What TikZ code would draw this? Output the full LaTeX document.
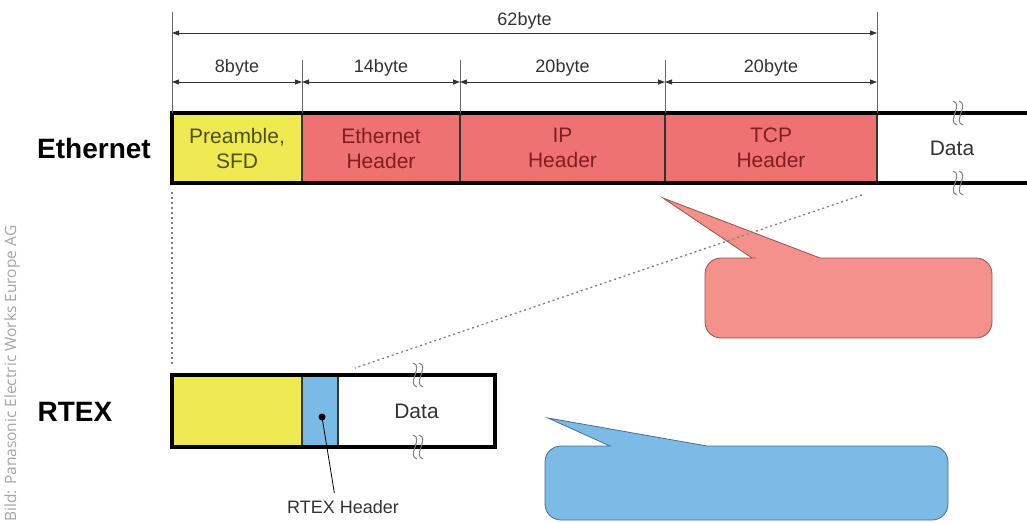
\documentclass[tikz,border=0pt]{standalone}
\usepackage{fontspec}
\setmainfont{Liberation Sans}
\newfontfamily\creditfont{Open Sans}
\usetikzlibrary{arrows.meta}
\definecolor{segyellow}{RGB}{240,234,82}
\definecolor{segred}{RGB}{238,114,114}
\definecolor{segblue}{RGB}{122,186,230}
\definecolor{callred}{RGB}{243,145,138}
\definecolor{callredline}{RGB}{150,80,80}
\definecolor{callblue}{RGB}{124,187,230}
\definecolor{callblueline}{RGB}{70,110,150}
\definecolor{txtolive}{RGB}{80,80,20}
\definecolor{txtred}{RGB}{130,30,30}
\definecolor{txtgray}{RGB}{50,50,50}
\definecolor{creditgray}{RGB}{165,165,165}

\begin{document}
\begin{tikzpicture}[x=1pt,y=-1pt,>={Triangle[length=7pt,width=5pt]},
  seg/.style={draw=black!80,line width=1.2pt,anchor=north west,inner sep=0pt,outer sep=0pt,
    minimum height=70pt,align=center,font=\fontsize{21}{25}\selectfont},
  outer/.style={line width=4pt,line join=miter},
  tick/.style={draw=black!60,line width=0.8pt},
  dim/.style={<->,draw=black!80,line width=0.8pt},
  dimlabel/.style={font=\fontsize{18}{21}\selectfont,text=txtgray},
  proto/.style={font=\fontsize{28}{32}\selectfont\bfseries},
  dots/.style={draw=black!50,line width=1.3pt,dash pattern=on 2pt off 3pt},
  brk/.style={draw=black!50,line width=1pt}]
\useasboundingbox (0,0) rectangle (1027,522);
% ethernet frame
\node[seg,fill=segyellow,text=txtolive,minimum width=130pt] (pre) at (172,113) {Preamble,\\SFD};
\node[seg,fill=segred,text=txtred,minimum width=158pt] (eth) at (pre.north east) {Ethernet\\Header};
\node[seg,fill=segred,text=txtred,minimum width=205pt] (ip) at (eth.north east) {IP\\Header};
\node[seg,fill=segred,text=txtred,minimum width=212pt] (tcp) at (ip.north east) {TCP\\Header};
\node[seg,draw=none,text=txtgray,minimum width=150pt] (data) at (tcp.north east) {Data};
\draw[outer] (data.north east) -- (pre.north west) -- (pre.south west) -- (data.south east);
\node[proto] (ethlbl) at (94,148) {Ethernet};
% byte counts
\draw[tick] (pre.north west) -- ++(0,-101);
\draw[tick] (tcp.north east) -- ++(0,-101);
\draw[tick] (pre.north east) -- ++(0,-53);
\draw[tick] (eth.north east) -- ++(0,-53);
\draw[tick] (ip.north east) -- ++(0,-53);
\draw[dim] ([yshift=80pt]pre.north west) -- ([yshift=80pt]tcp.north east) node[dimlabel,midway,above=0pt] {62byte};
\draw[dim] ([yshift=31pt]pre.north west) -- ([yshift=31pt]pre.north east) node[dimlabel,midway,above=2pt] {8byte};
\draw[dim] ([yshift=31pt]eth.north west) -- ([yshift=31pt]eth.north east) node[dimlabel,midway,above=2pt] {14byte};
\draw[dim] ([yshift=31pt]ip.north west) -- ([yshift=31pt]ip.north east) node[dimlabel,midway,above=2pt] {20byte};
\draw[dim] ([yshift=31pt]tcp.north west) -- ([yshift=31pt]tcp.north east) node[dimlabel,midway,above=2pt] {20byte};
% rtex frame
\node[seg,fill=segyellow,minimum width=130pt,minimum height=72pt] (rpre) at (172,375) {};
\node[seg,fill=segblue,minimum width=36pt,minimum height=72pt] (rhdr) at (rpre.north east) {};
\node[seg,draw=none,text=txtgray,minimum width=157pt,minimum height=72pt] (rdata) at (rhdr.north east) {Data};
\draw[outer] (rpre.north west) rectangle (rdata.south east);
\node[proto] (rtexlbl) at (75,412) {RTEX};
% break marks
\foreach \bx/\by in {958/113,958/183,418/375,418/447}
  \foreach \dx in {-3,3}
    \draw[brk] (\bx+\dx-2,\by-12) .. controls (\bx+\dx+9,\by-9) and (\bx+\dx-9,\by+9) .. (\bx+\dx+2,\by+12);
% callouts
\draw[fill=callred,draw=callredline,line width=0.8pt] (740,258) -- (752,258) -- (663,198) -- (820,258)
  [rounded corners=16pt] -- (992,258) -- (992,338) -- (705,338) -- (705,258) -- cycle;
\draw[fill=callblue,draw=callblueline,line width=0.8pt] (595,446) -- (610,446) -- (548,418) -- (707,446)
  [rounded corners=16pt] -- (948,446) -- (948,520) -- (545,520) -- (545,446) -- cycle;
% mapping lines
\draw[dots] ([yshift=-9pt]pre.south west) -- ([yshift=10pt]rpre.north west);
\draw[dots] ([xshift=-15pt,yshift=-12pt]tcp.south east) -- ([xshift=17pt,yshift=7pt]rhdr.north east);
% rtex header label
\coordinate (hdot) at ([xshift=2pt,yshift=-6pt]rhdr.center);
\fill (hdot) circle (3.5pt);
\node[dimlabel] (hlabel) at (343,507) {RTEX Header};
\draw[line width=0.8pt,shorten >=4pt] (hdot) -- ([xshift=-8pt]hlabel.north);
% credit
\node[rotate=90,anchor=west,inner sep=0pt,text=creditgray,font=\creditfont\fontsize{15.5}{18}\selectfont] (credit) at (12,522) {Bild: Panasonic Electric Works Europe AG};
\end{tikzpicture}
\end{document}
